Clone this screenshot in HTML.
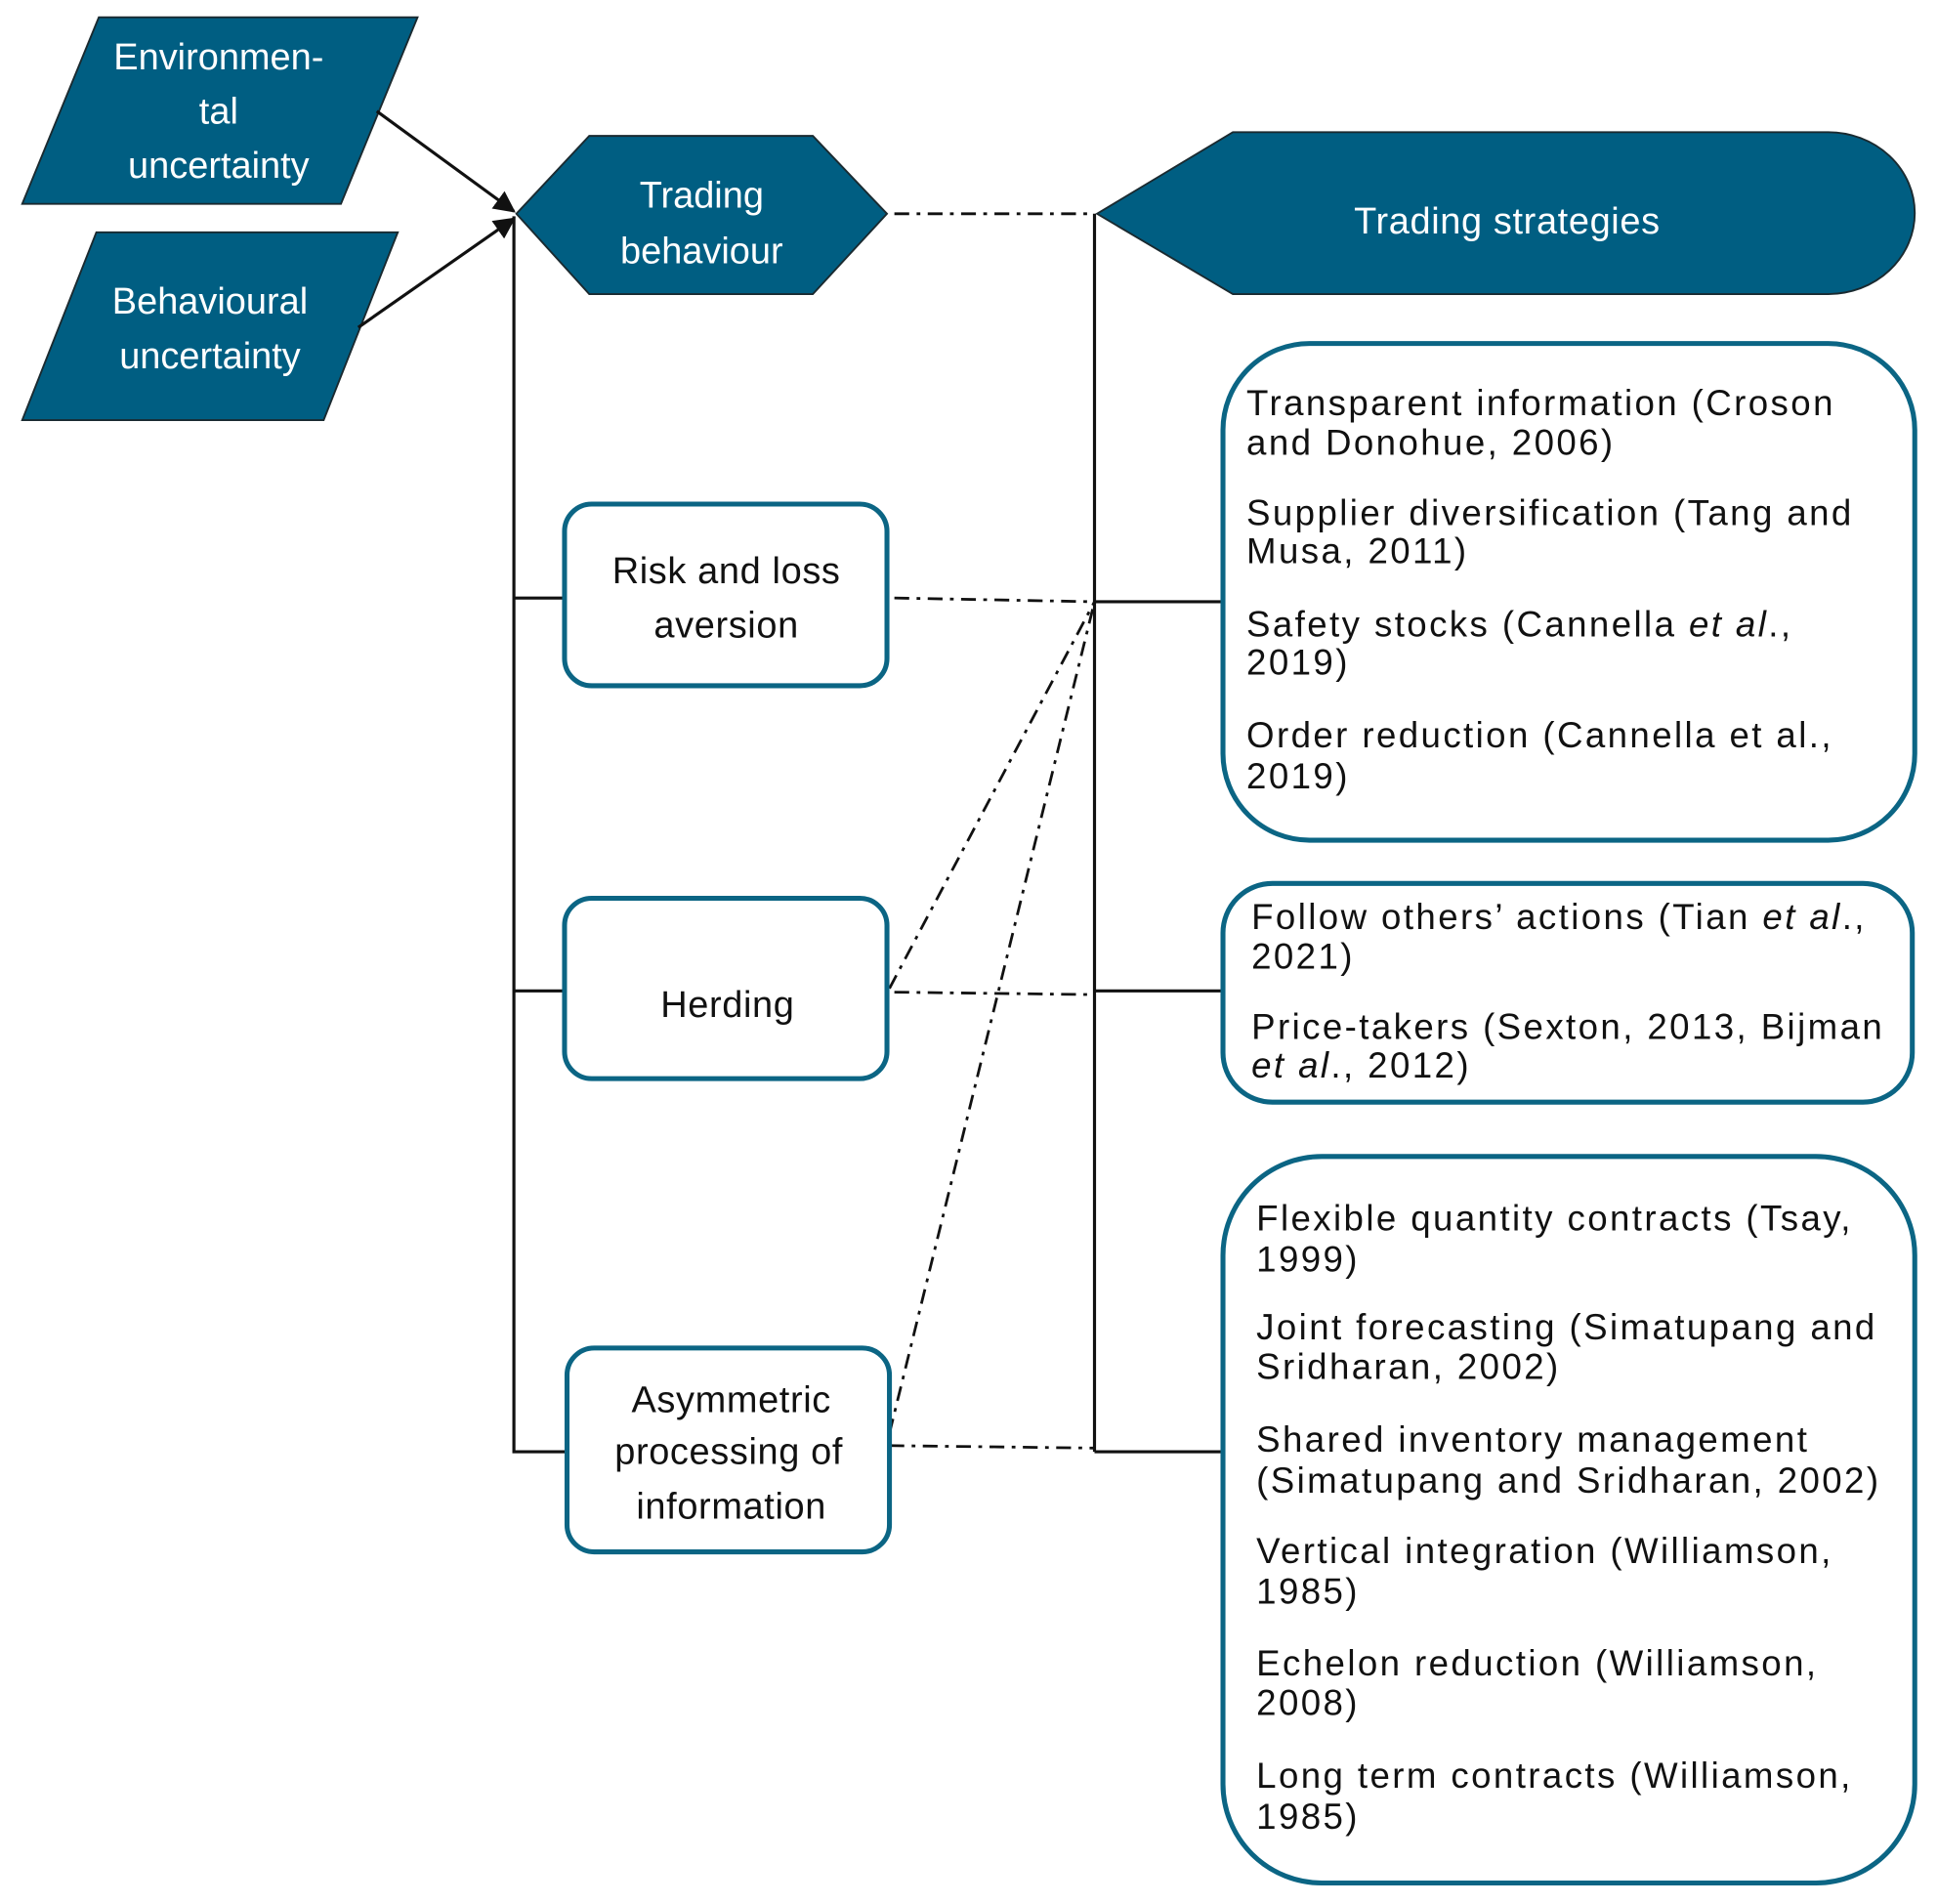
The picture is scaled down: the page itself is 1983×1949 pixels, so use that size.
<!DOCTYPE html>
<html><head><meta charset="utf-8"><style>
html,body{margin:0;padding:0;background:#fff}
svg{display:block}
text{font-family:"Liberation Sans",sans-serif}
.w{fill:#fff;font-size:30px;text-anchor:middle}
.d{fill:#111;font-size:29px;letter-spacing:1.9px}
.c{fill:#111;font-size:30px;text-anchor:middle;letter-spacing:0.5px}
.box{fill:#fff;stroke:#0b6584;stroke-width:4}
.sh{fill:#005e82;stroke:#1a2a30;stroke-width:1.5}
.dd{stroke:#111;stroke-width:2.2;fill:none;stroke-dasharray:12 6 3 6}
.ln{stroke:#111;stroke-width:2.5;fill:none}
</style></head><body>
<svg width="1983" height="1949" viewBox="0 0 1568 1541" preserveAspectRatio="none" xmlns="http://www.w3.org/2000/svg">
<defs><marker id="ar" viewBox="0 0 10 10" refX="9" refY="5" markerWidth="7" markerHeight="7" orient="auto"><path d="M0,0 L10,5 L0,10 z" fill="#111"/></marker></defs>
<polygon class="sh" points="80,14 338,14 276,165 18,165"/>
<text class="w" x="177" y="56">Environmen-</text>
<text class="w" x="177" y="100">tal</text>
<text class="w" x="177" y="144">uncertainty</text>
<polygon class="sh" points="78,188 322,188 262,340 18,340"/>
<text class="w" x="170" y="254">Behavioural</text>
<text class="w" x="170" y="298">uncertainty</text>
<line class="ln" x1="305" y1="90" x2="416" y2="171" marker-end="url(#ar)"/>
<line class="ln" x1="290" y1="265" x2="416" y2="177" marker-end="url(#ar)"/>
<polygon class="sh" points="418,173 477,110 658,110 718,173 658,238 477,238"/>
<text class="w" x="568" y="168">Trading</text>
<text class="w" x="568" y="213">behaviour</text>
<path class="sh" d="M888,173 L998,107 L1480,107 A70,65.5 0 0 1 1480,238 L998,238 Z"/>
<text class="w" x="1220" y="189" style="letter-spacing:0.5px">Trading strategies</text>
<polyline class="ln" points="416,175 416,1175 459,1175"/>
<line class="ln" x1="416" y1="484" x2="457" y2="484"/>
<line class="ln" x1="416" y1="802" x2="457" y2="802"/>
<line class="ln" x1="886" y1="173" x2="886" y2="1175"/>
<line class="ln" x1="886" y1="487" x2="990" y2="487"/>
<line class="ln" x1="886" y1="802" x2="990" y2="802"/>
<line class="ln" x1="886" y1="1175" x2="988" y2="1175"/>
<line class="dd" x1="724" y1="173" x2="886" y2="173"/>
<line class="dd" x1="724" y1="484" x2="886" y2="487"/>
<line class="dd" x1="720" y1="800" x2="886" y2="487"/>
<line class="dd" x1="724" y1="803" x2="886" y2="805"/>
<line class="dd" x1="720" y1="1160" x2="886" y2="487"/>
<line class="dd" x1="720" y1="1170" x2="886" y2="1172"/>
<rect class="box" x="457" y="408" width="261" height="147" rx="22"/>
<text class="c" x="588" y="472">Risk and loss</text>
<text class="c" x="588" y="516">aversion</text>
<rect class="box" x="457" y="727" width="261" height="146" rx="22"/>
<text class="c" x="589" y="823">Herding</text>
<rect class="box" x="459" y="1091" width="261" height="165" rx="22"/>
<text class="c" x="592" y="1143">Asymmetric</text>
<text class="c" x="590" y="1185">processing of</text>
<text class="c" x="592" y="1229">information</text>
<rect class="box" x="990" y="278" width="560" height="402" rx="70"/>
<text class="d" x="1009" y="336">Transparent information (Croson</text>
<text class="d" x="1009" y="368">and Donohue, 2006)</text>
<text class="d" x="1009" y="425">Supplier diversification (Tang and</text>
<text class="d" x="1009" y="456">Musa, 2011)</text>
<text class="d" x="1009" y="515">Safety stocks (Cannella <tspan font-style="italic">et al</tspan>.,</text>
<text class="d" x="1009" y="546">2019)</text>
<text class="d" x="1009" y="605">Order reduction (Cannella et al.,</text>
<text class="d" x="1009" y="638">2019)</text>
<rect class="box" x="990" y="715" width="558" height="177" rx="40"/>
<text class="d" x="1013" y="752">Follow others’ actions (Tian <tspan font-style="italic">et al</tspan>.,</text>
<text class="d" x="1013" y="784">2021)</text>
<text class="d" x="1013" y="841">Price-takers (Sexton, 2013, Bijman</text>
<text class="d" x="1013" y="872"><tspan font-style="italic">et al</tspan>., 2012)</text>
<rect class="box" x="990" y="936" width="560" height="588" rx="80"/>
<text class="d" x="1017" y="996">Flexible quantity contracts (Tsay,</text>
<text class="d" x="1017" y="1029">1999)</text>
<text class="d" x="1017" y="1084">Joint forecasting (Simatupang and</text>
<text class="d" x="1017" y="1116">Sridharan, 2002)</text>
<text class="d" x="1017" y="1175">Shared inventory management</text>
<text class="d" x="1017" y="1208">(Simatupang and Sridharan, 2002)</text>
<text class="d" x="1017" y="1265">Vertical integration (Williamson,</text>
<text class="d" x="1017" y="1298">1985)</text>
<text class="d" x="1017" y="1356">Echelon reduction (Williamson,</text>
<text class="d" x="1017" y="1388">2008)</text>
<text class="d" x="1017" y="1447">Long term contracts (Williamson,</text>
<text class="d" x="1017" y="1480">1985)</text>
</svg>
</body></html>
